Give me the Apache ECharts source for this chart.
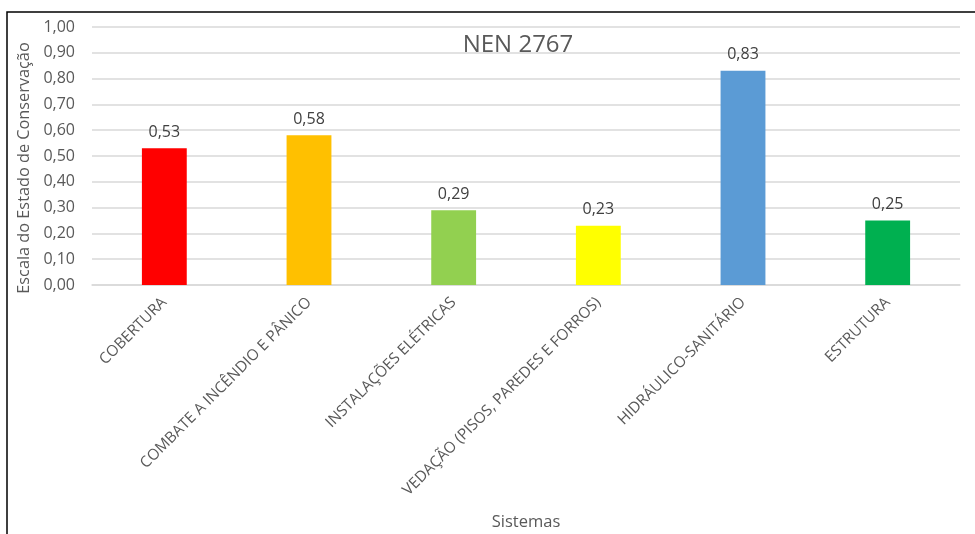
<!DOCTYPE html>
<html>
<head>
<meta charset="utf-8">
<script src="https://cdn.jsdelivr.net/npm/echarts@6/dist/echarts.min.js"></script>
<style>
  html, body { margin: 0; padding: 0; background: #fff; }
  #chart { width: 975px; height: 534px; }
</style>
</head>
<body>
<div id="chart"></div>
<script>
// Systems evaluated and their conservation-state score (NEN 2767)
const categories = [
  'COBERTURA',
  'COMBATE A INCÊNDIO E PÂNICO',
  'INSTALAÇÕES ELÉTRICAS',
  'VEDAÇÃO (PISOS, PAREDES E FORROS)',
  'HIDRÁULICO-SANITÁRIO',
  'ESTRUTURA'
];
const values = [0.53, 0.58, 0.29, 0.23, 0.83, 0.25];
const barColors = ['#FF0000', '#FFC000', '#92D050', '#FFFF00', '#5B9BD5', '#00B050'];

const FONT = '"Open Sans", "Noto Sans", sans-serif';
const chart = echarts.init(document.getElementById('chart'));

const fmt = v => v.toFixed(2).replace('.', ',');

chart.setOption({
  animation: false,
  title: {
    text: 'NEN 2767',
    left: 513,
    textAlign: 'center',
    top: 28,
    textStyle: { fontFamily: FONT, fontSize: 24, fontWeight: 'normal', color: '#595959' }
  },
  grid: { left: 92, right: 15, top: 27, bottom: 249, outerBoundsMode: 'none' },
  xAxis: {
    type: 'category',
    data: categories,
    name: 'Sistemas',
    nameLocation: 'middle',
    nameGap: 229,
    nameTextStyle: { fontFamily: FONT, fontSize: 16.5, color: '#595959' },
    axisLine: { lineStyle: { color: '#D9D9D9', width: 1.5 } },
    axisTick: { show: false },
    axisLabel: {
      interval: 0,
      rotate: 45,
      margin: 15,
      fontFamily: FONT,
      fontSize: 15.3,
      color: '#595959'
    }
  },
  yAxis: {
    type: 'value',
    min: 0,
    max: 1,
    interval: 0.1,
    name: 'Escala do Estado de Conservação',
    nameLocation: 'middle',
    nameGap: 56,
    nameTextStyle: { fontFamily: FONT, fontSize: 16.3, color: '#595959', padding: [0, 24, 0, 0] },
    axisLine: { show: false },
    axisTick: { show: false },
    splitLine: { lineStyle: { color: '#D9D9D9', width: 1.5 } },
    axisLabel: {
      margin: 17,
      fontFamily: FONT,
      fontSize: 16,
      color: '#595959',
      formatter: v => fmt(v)
    }
  },
  series: [{
    type: 'bar',
    barWidth: '31%',
    data: values.map((v, i) => ({ value: v, itemStyle: { color: barColors[i] } })),
    label: {
      show: true,
      position: 'top',
      distance: 8,
      fontFamily: FONT,
      fontSize: 16,
      color: '#404040',
      formatter: p => fmt(p.value)
    }
  }],
  graphic: [{
    type: 'polyline',
    shape: { points: [[7, 534], [7, 12], [975, 12]] },
    style: { stroke: '#000', lineWidth: 1.5, fill: null },
    silent: true
  }]
});
</script>
</body>
</html>
